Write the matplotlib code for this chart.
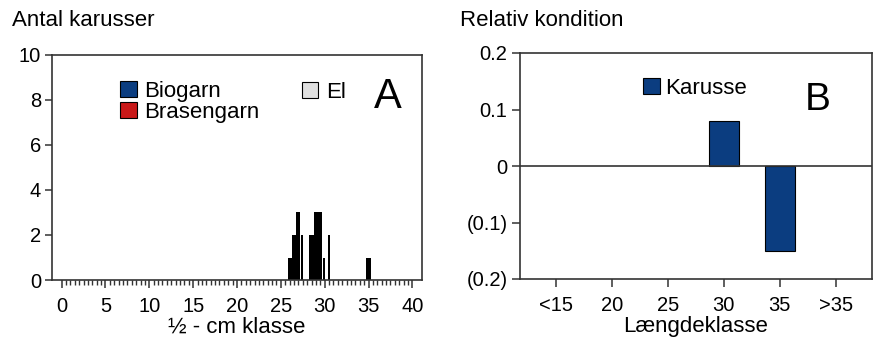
import numpy as np
import matplotlib
matplotlib.use("Agg")
import matplotlib.pyplot as plt
from matplotlib.patches import Patch

# ---------------------------------------------------------
# Data
# ---------------------------------------------------------
# Panel A: number of crucian carp per half-cm class
classes_wide = [26, 26.5, 27, 28.5, 29, 29.5, 35]
counts_wide = [1, 2, 3, 2, 3, 3, 1]
classes_narrow = [27.5, 30, 30.5]
counts_narrow = [2, 1, 2]
legend_a = ["Biogarn", "Brasengarn"]
legend_a_extra = "El"

# Panel B: relative condition per length class
length_labels = ["<15", "20", "25", "30", "35", ">35"]
rel_condition = [np.nan, np.nan, np.nan, 0.08, -0.15, np.nan]
y_ticks_b = [-0.2, -0.1, 0, 0.1, 0.2]
y_labels_b = ["(0.2)", "(0.1)", "0", "0.1", "0.2"]

# ---------------------------------------------------------
# Style
# ---------------------------------------------------------
plt.rcParams["font.family"] = ["Liberation Sans", "DejaVu Sans"]
FS = 16
TICK_FS = 14.5
SPINE = "#333333"
BLUE = "#0b3d80"
RED = "#c81818"
GREY = "#e0e0e0"

fig = plt.figure(figsize=(8.73, 3.49), dpi=100)
W, H = 873, 349


def px_axes(l, r, t, b):
    return fig.add_axes([l / W, 1 - b / H, (r - l) / W, (b - t) / H])


# ---------------------------------------------------------
# Panel A
# ---------------------------------------------------------
axA = px_axes(52, 422, 55, 280)
axA.bar(classes_wide, counts_wide, width=0.48, color="black", edgecolor="none")
axA.bar(np.array(classes_narrow) - 0.05, counts_narrow, width=0.22,
        color="black", edgecolor="none")

axA.set_xlim(-1.1, 41.1)
axA.set_ylim(0, 10)
axA.set_xticks(np.arange(0, 41, 5))
axA.set_xticks(np.arange(0, 40.5, 0.5), minor=True)
axA.set_yticks(np.arange(0, 11, 2))
axA.tick_params(axis="x", which="major", length=6, width=1.1, color=SPINE,
                labelsize=TICK_FS, pad=6)
axA.tick_params(axis="x", which="minor", length=3.5, width=1.0, color=SPINE)
axA.tick_params(axis="y", length=5, width=1.1, color=SPINE,
                labelsize=TICK_FS, pad=3)
axA.set_xlabel("½ - cm klasse", fontsize=FS, labelpad=1)
for s in axA.spines.values():
    s.set_color(SPINE)
    s.set_linewidth(1.2)

handles_a = [Patch(facecolor=BLUE, edgecolor="black", lw=0.8),
             Patch(facecolor=RED, edgecolor="black", lw=0.8)]
legA = axA.legend(handles_a, legend_a, loc="upper left",
                  bbox_to_anchor=(0.184, 0.885), frameon=False, fontsize=FS,
                  handlelength=0.75, handleheight=0.75, handletextpad=0.35,
                  labelspacing=0.0, borderpad=0, borderaxespad=0)
axA.add_artist(legA)
axA.legend([Patch(facecolor=GREY, edgecolor="black", lw=0.8)], [legend_a_extra],
           loc="upper left", bbox_to_anchor=(0.675, 0.88), frameon=False,
           fontsize=FS, handlelength=0.75, handleheight=0.75,
           handletextpad=0.35, borderpad=0, borderaxespad=0)
axA.text(0.908, 0.764, "A", transform=axA.transAxes, fontsize=30,
         ha="center", va="baseline")

fig.text(12 / W, 1 - 20 / H, "Antal karusser", fontsize=FS, va="center",
         ha="left")

# ---------------------------------------------------------
# Panel B
# ---------------------------------------------------------
axB = px_axes(520, 872, 53, 279)
xpos = np.arange(len(length_labels))
axB.bar(xpos, rel_condition, width=0.54, color=BLUE, edgecolor="black",
        linewidth=0.8, label="Karusse")
axB.axhline(0, color=SPINE, lw=1.2)

axB.set_xlim(-0.64, 5.65)
axB.set_ylim(-0.2, 0.2)
axB.set_xticks(xpos)
axB.set_xticklabels(length_labels)
axB.set_yticks(y_ticks_b)
axB.set_yticklabels(y_labels_b)
axB.tick_params(axis="x", length=6, width=1.1, color=SPINE,
                labelsize=TICK_FS, pad=6)
axB.tick_params(axis="y", length=6, width=1.1, color=SPINE,
                labelsize=TICK_FS, pad=3)
axB.set_xlabel("Længdeklasse", fontsize=FS, labelpad=1)
for s in axB.spines.values():
    s.set_color(SPINE)
    s.set_linewidth(1.2)

axB.legend(loc="upper left", bbox_to_anchor=(0.349, 0.89), frameon=False,
           fontsize=FS, handlelength=0.75, handleheight=0.75,
           handletextpad=0.25, borderpad=0, borderaxespad=0)
axB.text(0.845, 0.748, "B", transform=axB.transAxes, fontsize=28,
         ha="center", va="baseline")

fig.text(460 / W, 1 - 20 / H, "Relativ kondition", fontsize=FS, va="center",
         ha="left")

fig.savefig("out.png", dpi=100)
